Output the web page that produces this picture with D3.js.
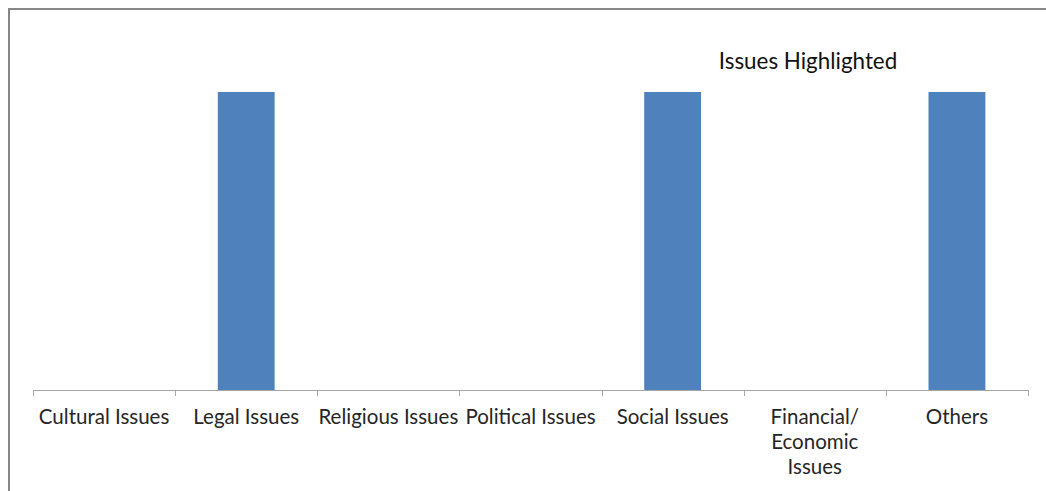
<!DOCTYPE html>
<html><head><meta charset="utf-8">
<script src="https://cdn.jsdelivr.net/npm/d3@7"></script>
<style>html,body{margin:0;padding:0;background:#fff;overflow:hidden}</style>
</head><body>
<script>
const categories = ["Cultural Issues","Legal Issues","Religious Issues","Political Issues","Social Issues","Financial/ Economic Issues","Others"];
const labelLines = [["Cultural Issues"],["Legal Issues"],["Religious Issues"],["Political Issues"],["Social Issues"],["Financial/","Economic","Issues"],["Others"]];
const values = [0,1,0,0,1,0,1];
const title = "Issues Highlighted";

const W = 1046, H = 491;
const svg = d3.select("body").append("svg").attr("width", W).attr("height", H);
svg.append("rect").attr("x",9).attr("y",9).attr("width",W+20).attr("height",H+20)
  .attr("fill","#fff").attr("stroke","#878787").attr("stroke-width",2);

const x0 = 33, x1 = 1028, yBase = 390, yTop = 92;
const xAxisScale = d3.scaleBand().domain(categories).range([x0,x1]).padding(0);
const xBar = d3.scaleBand().domain(categories).range([x0,x1]).paddingInner(0.6).paddingOuter(0.3);
const y = d3.scaleLinear().domain([0,1]).range([yBase,yTop]);

svg.append("g").selectAll("rect").data(categories).join("rect")
  .attr("x", d => xBar(d)).attr("width", xBar.bandwidth())
  .attr("y", (d,i) => y(values[i])).attr("height", (d,i) => yBase - y(values[i]))
  .attr("fill","#4f81bd");

const ax = svg.append("g");
ax.append("line").attr("x1",x0).attr("x2",x1).attr("y1",yBase+0.5).attr("y2",yBase+0.5)
  .attr("stroke","#a6a6a6").attr("stroke-width",1);
const bounds = categories.map(c => xAxisScale(c)).concat([x1]);
ax.selectAll("line.tick").data(bounds).join("line").attr("class","tick")
  .attr("x1",d=>Math.round(d)+0.5).attr("x2",d=>Math.round(d)+0.5)
  .attr("y1",yBase).attr("y2",yBase+6).attr("stroke","#a6a6a6");

const lab = ax.selectAll("text.lab").data(categories).join("text").attr("class","lab")
  .attr("x", d => xAxisScale(d) + xAxisScale.bandwidth()/2)
  .attr("y", 424).attr("text-anchor","middle")
  .attr("font-family","Lato, sans-serif").attr("font-size",20.5).attr("fill","#262626");
lab.each(function(d,i){
  d3.select(this).selectAll("tspan").data(labelLines[i]).join("tspan")
    .attr("x", xAxisScale(d) + xAxisScale.bandwidth()/2)
    .attr("dy",(t,j)=> j===0 ? 0 : 25).text(t=>t);
});

svg.append("text").attr("x",808).attr("y",69).attr("text-anchor","middle")
  .attr("font-family","Lato, sans-serif").attr("font-size",22.4).attr("fill","#111")
  .text(title);
</script>
</body></html>
